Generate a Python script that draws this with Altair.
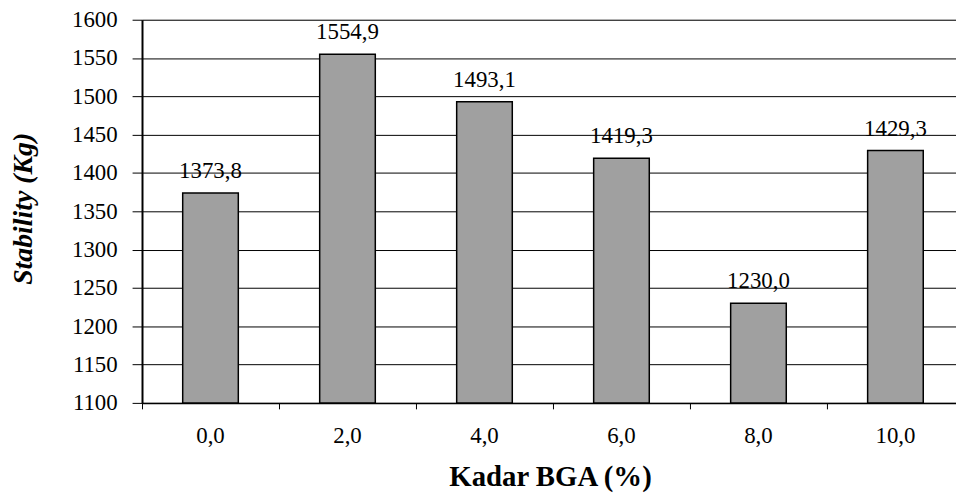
import altair as alt
import pandas as pd

categories = ["0,0", "2,0", "4,0", "6,0", "8,0", "10,0"]
stability = [1373.8, 1554.9, 1493.1, 1419.3, 1230.0, 1429.3]
y_ticks = [1100, 1150, 1200, 1250, 1300, 1350, 1400, 1450, 1500, 1550, 1600]
y_base = 1100

df = pd.DataFrame({"kadar": categories, "stability": stability})

FONT = "Liberation Serif"

x_enc = alt.X(
    "kadar:N",
    sort=categories,
    scale=alt.Scale(range=[0, 828], paddingInner=0, paddingOuter=0),
    axis=alt.Axis(
        title="Kadar BGA (%)",
        titleFont=FONT,
        titleFontSize=29,
        titleFontWeight="bold",
        titleColor="black",
        titleX=411,
        titleY=83,
        titleBaseline="alphabetic",
        labelFont=FONT,
        labelFontSize=23,
        labelColor="black",
        labelAngle=0,
        labelBaseline="alphabetic",
        labelPadding=34,
        bandPosition=0,
        tickSize=6,
        tickColor="black",
        tickWidth=1,
        domainColor="black",
        domainWidth=1.5,
        grid=False,
    ),
)

y_enc = alt.Y(
    "stability:Q",
    scale=alt.Scale(domain=[1100, 1600], nice=False, zero=False),
    axis=alt.Axis(
        title="Stability (Kg)",
        titleFont=FONT,
        titleFontSize=28,
        titleFontWeight="bold",
        titleFontStyle="italic",
        titleColor="black",
        titleAngle=270,
        titleX=-111,
        titleY=190,
        titleBaseline="alphabetic",
        titleAlign="center",
        values=y_ticks,
        format="d",
        labelOverlap=False,
        labelFont=FONT,
        labelFontSize=23,
        labelColor="black",
        labelPadding=15,
        tickSize=10,
        tickColor="black",
        tickWidth=1,
        domainColor="black",
        domainWidth=2,
        grid=True,
        gridColor="black",
        gridWidth=1,
        gridOpacity=1,
    ),
)

base = alt.Chart(df).encode(x=x_enc, y=y_enc)

bars = base.mark_bar(
    width=alt.RelativeBandSize(0.406),
    color="#a0a0a0",
    stroke="black",
    strokeWidth=1.5,
).encode(y2=alt.datum(y_base))

labels = base.transform_calculate(
    lbl="replace(format(datum.stability, '.1f'), '.', ',')"
).mark_text(
    font=FONT,
    fontSize=23,
    color="black",
    baseline="alphabetic",
    dy=-15,
).encode(text="lbl:N")

chart = (
    alt.layer(bars, labels)
    .properties(
        width=820,
        height=386,
        autosize=alt.AutoSizeParams(type="none"),
        padding={"left": 135, "top": 10, "right": 0, "bottom": 94},
    )
    .configure_view(stroke=None)
    .configure(background="white")
)

chart.save("out.html", embed_options={"renderer": "svg", "actions": False})
